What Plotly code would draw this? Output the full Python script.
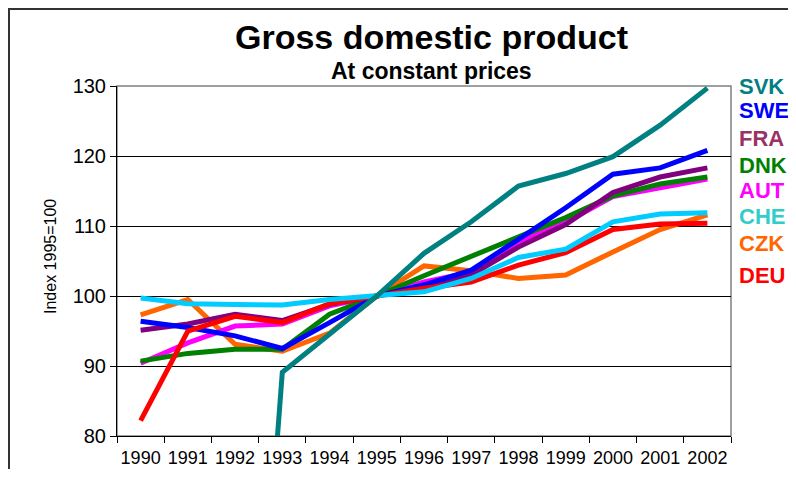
import plotly.graph_objects as go

# ---------------------------------------------------
# 데이터 (Index 1995=100)
# ---------------------------------------------------
years = [str(y) for y in range(1990, 2003)]

svk = [0, 0, 0, 89.1, 94.5, 100, 106.1, 110.6, 115.7, 117.5, 119.9, 124.4, 129.7]
swe = [96.4, 95.5, 94.3, 92.5, 96.2, 100, 101.6, 103.7, 108.1, 112.6, 117.4, 118.3, 120.8]
fra = [95.1, 96.0, 97.4, 96.5, 98.8, 100, 101.4, 103.0, 107.0, 110.2, 114.8, 117.0, 118.3]
dnk = [90.7, 91.8, 92.4, 92.4, 97.4, 100, 102.9, 105.7, 108.4, 111.2, 114.3, 116.0, 117.0]
aut = [90.4, 93.3, 95.7, 96.0, 98.6, 100, 102.0, 103.4, 107.8, 110.5, 114.2, 115.4, 116.7]
che = [99.7, 98.9, 98.8, 98.7, 99.5, 100, 100.6, 102.5, 105.5, 106.7, 110.6, 111.7, 111.9]
czk = [97.3, 99.5, 93.1, 92.1, 94.7, 100, 104.3, 103.6, 102.5, 103.0, 106.3, 109.5, 111.6]
deu = [82.2, 95.0, 97.1, 96.2, 98.9, 100, 101.1, 102.0, 104.4, 106.2, 109.5, 110.3, 110.4]

y_ticks = [80, 90, 100, 110, 120, 130]

# 국가별 (값, 선 색상, 라벨 색상)
series = {
    "SVK": (svk, "#008080", "#008080"),
    "SWE": (swe, "#0000FF", "#0000FF"),
    "FRA": (fra, "#800080", "#993366"),
    "DNK": (dnk, "#008000", "#008000"),
    "AUT": (aut, "#FF00FF", "#FF00FF"),
    "CHE": (che, "#00CCFF", "#33CCCC"),
    "CZK": (czk, "#FF6600", "#FF6600"),
    "DEU": (deu, "#FF0000", "#FF0000"),
}

# 그리는 순서 (아래 -> 위)
draw_order = ["CZK", "AUT", "DNK", "FRA", "SWE", "DEU", "CHE", "SVK"]

# 오른쪽 라벨 위치 (창 기준 픽셀 y)
label_y_px = {"SVK": 86.7, "SWE": 111, "FRA": 138, "DNK": 165,
              "AUT": 190, "CHE": 216.7, "CZK": 243.7, "DEU": 275.7}

# 페이지 body 기본 여백(8px) 보정 - 스크롤이 생기지 않도록 양쪽 모두 뺌
OFF = 8
WIN_W, WIN_H = 796, 477
W, H = WIN_W - 2 * OFF, WIN_H - 2 * OFF
PLOT_L, PLOT_R, PLOT_T, PLOT_B = 117, 731, 86, 436  # 창 기준 픽셀
plot_w = PLOT_R - PLOT_L
plot_h = PLOT_B - PLOT_T


def px_x(x):
    return (x - PLOT_L) / plot_w


def px_y(y):
    return (PLOT_B - y) / plot_h


FONT = "Arial, Liberation Sans, sans-serif"

fig = go.Figure()
for name in draw_order:
    vals, line_color, _ = series[name]
    fig.add_trace(
        go.Scatter(
            x=years,
            y=vals,
            mode="lines",
            name=name,
            line=dict(color=line_color, width=5),
            showlegend=False,
        )
    )

fig.update_layout(
    width=W,
    height=H,
    margin=dict(l=PLOT_L - OFF, r=(WIN_W - OFF) - PLOT_R, t=PLOT_T - OFF,
                b=(WIN_H - OFF) - PLOT_B, autoexpand=False),
    paper_bgcolor="white",
    plot_bgcolor="white",
    font=dict(family=FONT, color="black"),
)

fig.update_xaxes(
    type="category",
    range=[-0.5, len(years) - 0.5],
    tickson="boundaries",
    ticks="outside",
    ticklen=6,
    tickcolor="black",
    tickangle=0,
    ticklabelstandoff=5,
    showline=True,
    linecolor="black",
    linewidth=1,
    showgrid=False,
    tickfont=dict(size=18, color="black"),
)
fig.update_yaxes(
    range=[80, 130],
    tickvals=y_ticks,
    ticks="outside",
    ticklen=6,
    tickcolor="black",
    showline=True,
    linecolor="black",
    linewidth=1,
    showgrid=True,
    gridcolor="black",
    gridwidth=1,
    zeroline=False,
    tickfont=dict(size=20, color="black"),
)

# 플롯 영역 회색 테두리 (위/오른쪽)
fig.add_shape(type="rect", xref="paper", yref="paper", x0=0, x1=1, y0=0, y1=1,
              line=dict(color="#808080", width=1.5), layer="between")

# 바깥 프레임 (왼쪽/위쪽)
fig.add_shape(type="path", xref="paper", yref="paper",
              path=f"M {px_x(9)},{px_y(490)} L {px_x(9)},{px_y(9)} L {px_x(810)},{px_y(9)}",
              line=dict(color="#333333", width=2))

annotations = [
    dict(text="<b>Gross domestic product</b>", x=px_x(431), y=px_y(37),
         font=dict(size=34, color="black")),
    dict(text="<b>At constant prices</b>", x=px_x(431), y=px_y(71),
         font=dict(size=23, color="black")),
    dict(text="Index 1995=100", x=px_x(50), y=px_y(257), textangle=-90,
         font=dict(size=16, color="black")),
]
for name, (_, _, label_color) in series.items():
    annotations.append(
        dict(text=f"<b>{name}</b>", x=px_x(737), y=px_y(label_y_px[name]),
             xanchor="left", font=dict(size=22, color=label_color))
    )

for a in annotations:
    a.update(xref="paper", yref="paper", showarrow=False)
    a.setdefault("xanchor", "center")
    a.setdefault("yanchor", "middle")
fig.update_layout(annotations=annotations)

fig.write_html("out.html")
